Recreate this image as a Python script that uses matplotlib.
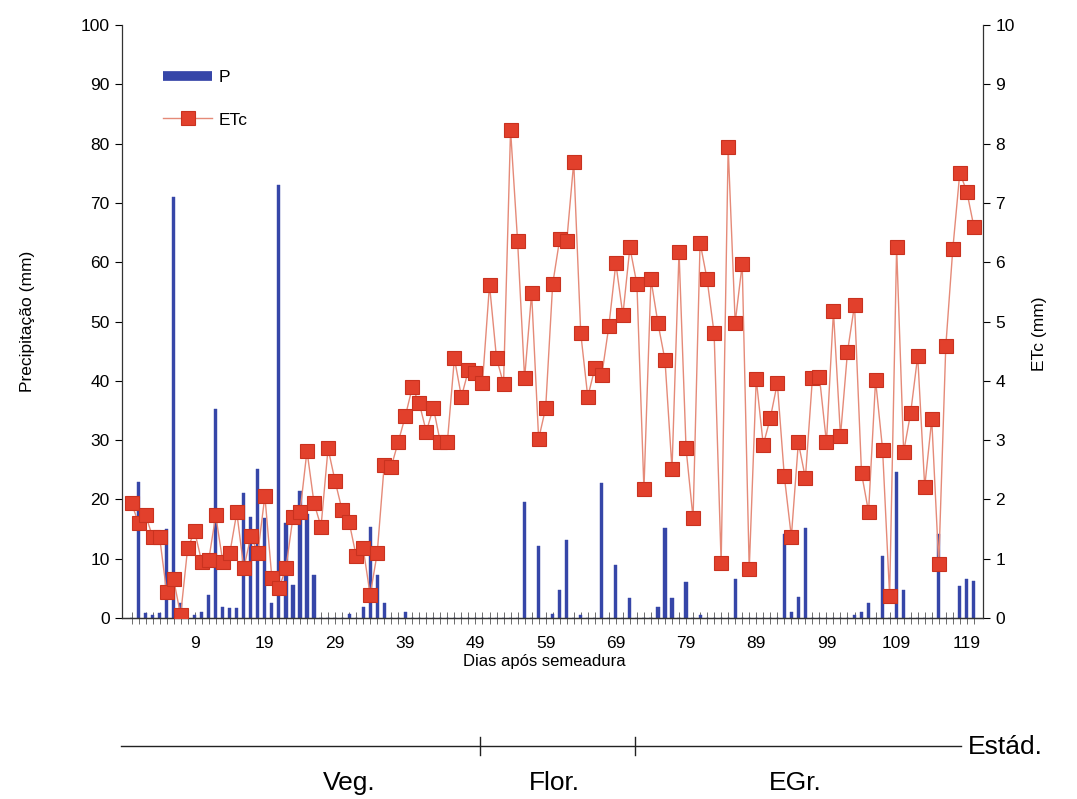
import matplotlib
matplotlib.use('Agg')
import matplotlib.pyplot as plt
import numpy as np
from matplotlib.lines import Line2D
from matplotlib.transforms import blended_transform_factory

plt.rcParams['font.family'] = ['Liberation Sans', 'DejaVu Sans']

# ---------------- data ----------------
days = list(range(0, 121))

P = [0, 23.0, 0.8, 0.5, 0.8, 15.0, 71.0, 2.5, 0, 0.5,
     1.0, 3.9, 35.2, 1.9, 1.7, 1.7, 21.0, 17.1, 25.2, 16.8,
     2.5, 73.0, 16.0, 5.6, 21.5, 17.5, 7.3, 0, 0, 0,
     0, 0.6, 0, 1.9, 15.3, 7.2, 2.6, 0, 0, 1.0,
     0, 0, 0, 0, 0, 0, 0, 0, 0, 0,
     0, 0, 0, 0, 0, 0, 19.6, 0, 12.1, 0,
     0.6, 4.8, 13.2, 0, 0.5, 0, 0, 22.7, 0, 8.9,
     0, 3.3, 0, 0, 0, 1.9, 15.1, 3.4, 0, 6.0,
     0, 0.5, 0, 0, 0, 0, 6.5, 0, 0, 0,
     0, 0, 0, 14.2, 1.0, 3.5, 15.2, 0, 0, 0,
     0, 0, 0, 0.5, 1.0, 2.5, 0, 10.4, 0, 24.7,
     4.8, 0, 0, 0, 0, 14.2, 0, 0, 5.4, 6.5,
     6.3]

ETc = [1.94, 1.60, 1.74, 1.37, 1.37, 0.44, 0.65, 0.05, 1.18, 1.46,
       0.95, 0.98, 1.73, 0.95, 1.09, 1.78, 0.84, 1.38, 1.10, 2.06,
       0.67, 0.50, 0.84, 1.70, 1.78, 2.82, 1.94, 1.54, 2.86, 2.31,
       1.82, 1.62, 1.05, 1.18, 0.39, 1.09, 2.58, 2.55, 2.97, 3.40,
       3.89, 3.62, 3.14, 3.55, 2.96, 2.97, 4.38, 3.73, 4.18, 4.13,
       3.97, 5.62, 4.38, 3.95, 8.23, 6.36, 4.04, 5.48, 3.02, 3.54,
       5.63, 6.39, 6.35, 7.69, 4.80, 3.73, 4.21, 4.10, 4.92, 5.98,
       5.11, 6.25, 5.63, 2.17, 5.71, 4.97, 4.35, 2.51, 6.18, 2.86,
       1.68, 6.33, 5.71, 4.80, 0.92, 7.94, 4.98, 5.97, 0.82, 4.03,
       2.92, 3.37, 3.96, 2.39, 1.37, 2.96, 2.36, 4.04, 4.07, 2.96,
       5.17, 3.07, 4.49, 5.28, 2.44, 1.79, 4.01, 2.84, 0.37, 6.25,
       2.80, 3.46, 4.42, 2.21, 3.35, 0.91, 4.58, 6.22, 7.51, 7.19,
       6.60]

x_tick_days = [9, 19, 29, 39, 49, 59, 69, 79, 89, 99, 109, 119]
p_ticks = [0, 10, 20, 30, 40, 50, 60, 70, 80, 90, 100]
etc_ticks = [0, 1, 2, 3, 4, 5, 6, 7, 8, 9, 10]

stage_names = ['Veg.', 'Flor.', 'EGr.']
stage_bounds = [-1.5, 49.6, 71.7, 118.2]
stage_label_days = [31.0, 60.3, 94.5]

# ---------------- style ----------------
BAR = '#3646a8'
MK_FACE = '#e2402c'
MK_EDGE = '#c9321f'
LINE = '#e58a78'

fig = plt.figure(figsize=(10.77, 7.99), dpi=100)
ax = fig.add_axes([0.1133, 0.2265, 0.7994, 0.7422])

ax.bar(days, P, width=0.45, color=BAR, edgecolor=BAR, linewidth=0.3, zorder=2)
ax.set_xlim(-1.35, 121.3)
ax.set_ylim(0, 100)

ax2 = ax.twinx()
ax2.plot(days, ETc, color=LINE, lw=1.0, marker='s', ms=9.5,
         mfc=MK_FACE, mec=MK_EDGE, mew=0.8, zorder=3)
ax2.set_ylim(0, 10)

for a in (ax, ax2):
    a.spines['top'].set_visible(False)
ax.spines['right'].set_visible(False)
ax2.spines['left'].set_visible(False)
for a in (ax, ax2):
    for s in a.spines.values():
        s.set_linewidth(0.9)
        s.set_color('#333333')

ax.set_yticks(p_ticks)
ax2.set_yticks(etc_ticks)
ax.tick_params(axis='y', direction='out', length=5, width=0.8, labelsize=12.5, pad=4)
ax2.tick_params(axis='y', direction='out', length=5, width=0.8, labelsize=12.5, pad=4)

ax.set_xticks(x_tick_days)
ax.set_xticklabels([str(d) for d in x_tick_days])
ax.set_xticks(days, minor=True)
ax.tick_params(axis='x', which='both', direction='inout', length=8, width=0.6,
               color='#555555', labelsize=12.5, pad=9)

ax.set_ylabel('Precipitação (mm)', fontsize=12.5, va='center', ha='center')
ax.yaxis.set_label_coords(-0.1100, 0.5)
ax2.set_ylabel('ETc (mm)', fontsize=12.5, rotation=90, va='center', ha='center')
ax2.yaxis.set_label_coords(1.066, 0.48)
ax.set_xlabel('Dias após semeadura', fontsize=12, va='center', ha='center')
ax.xaxis.set_label_coords(0.491, -0.074)

handles = [Line2D([], [], color=BAR, lw=7, solid_capstyle='butt'),
           Line2D([], [], color=LINE, lw=1.0, marker='s', ms=9.5,
                  mfc=MK_FACE, mec=MK_EDGE, mew=0.8)]
ax2.legend(handles, ['P', 'ETc'], loc='upper left', bbox_to_anchor=(0.048, 0.925),
           frameon=False, fontsize=12.5, handlelength=2.8, handletextpad=0.4,
           labelspacing=1.6, borderpad=0, borderaxespad=0)

# ---------------- stage bar ----------------
tr = blended_transform_factory(ax.transData, fig.transFigure)
y_line = 1 - 746 / 799
ax.plot([stage_bounds[0], stage_bounds[-1]], [y_line, y_line], transform=tr,
        color='#222222', lw=1.0, clip_on=False)
for b in stage_bounds[1:-1]:
    ax.plot([b, b], [y_line - 0.011, y_line + 0.011], transform=tr,
            color='#222222', lw=1.0, clip_on=False)
for name, xd in zip(stage_names, stage_label_days):
    ax.text(xd, 1 - 783 / 799, name, transform=tr, fontsize=19,
            ha='center', va='center')
fig.text(968 / 1077, 1 - 747 / 799, 'Estád.', fontsize=19, ha='left', va='center')

fig.savefig('out.png', dpi=100)
